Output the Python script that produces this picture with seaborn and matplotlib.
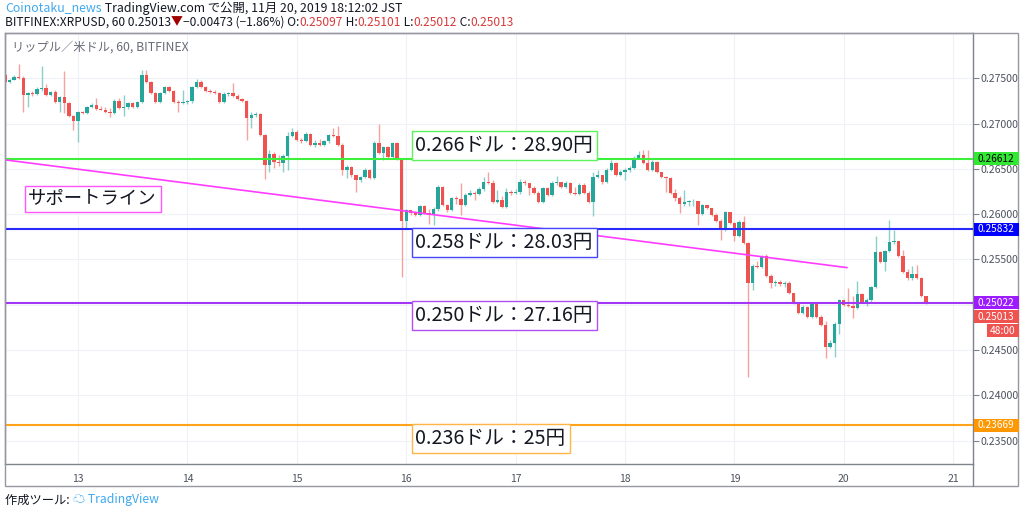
import numpy as np
import pandas as pd
import matplotlib
matplotlib.use("Agg")
import matplotlib.pyplot as plt
import seaborn as sns
from matplotlib.patches import Rectangle
from matplotlib.lines import Line2D

# ---------------- data ----------------
first_open = 0.2754
close = [
    .2746, .2748, .2751, .2750, .2732, .2734, .2733, .2738, .2739, .2732,
    .2735, .2724, .2729, .2723, .2708, .2703, .2713, .2712, .2718, .2721,
    .2716, .2715, .2713, .2712, .2725, .2717, .2718, .2723, .2718, .2724,
    .2754, .2746, .2734, .2724, .2734, .2740, .2736, .2724, .2723, .2724,
    .2725, .2740, .2746, .2740, .2736, .2735, .2734, .2724, .2733, .2734,
    .2730, .2727, .2725, .2706, .2709, .2711, .2687, .2654, .2666, .2658,
    .2657, .2664, .2686, .2691, .2682, .2681, .2689, .2676, .2679, .2676,
    .2681, .2687, .2686, .2676, .2649, .2652, .2643, .2638, .2641, .2649,
    .2640, .2679, .2668, .2674, .2663, .2679, .2661, .2593, .2605, .2601,
    .2599, .2609, .2601, .2599, .2606, .2630, .2610, .2605, .2618, .2617,
    .2610, .2621, .2623, .2622, .2628, .2636, .2634, .2613, .2616, .2608,
    .2624, .2623, .2625, .2636, .2634, .2629, .2623, .2613, .2629, .2621,
    .2634, .2635, .2630, .2634, .2623, .2622, .2632, .2623, .2613, .2641,
    .2643, .2636, .2649, .2657, .2643, .2647, .2649, .2651, .2662, .2665,
    .2657, .2649, .2658, .2647, .2641, .2640, .2623, .2618, .2611, .2613,
    .2614, .2615, .2600, .2610, .2607, .2599, .2593, .2584, .2602, .2590,
    .2576, .2591, .2568, .2524, .2543, .2542, .2554, .2532, .2524, .2525,
    .2523, .2524, .2513, .2502, .2491, .2498, .2487, .2501, .2487, .2478,
    .2453, .2458, .2479, .2505, .2500, .2499, .2496, .2512, .2503, .2505,
    .2520, .2558, .2547, .2559, .2569, .2570, .2554, .2536, .2530, .2534,
    .2530, .25097, .25013]
high = [
    .2755, .2749, .2754, .2766, .2753, .2735, .2736, .2740, .2764, .2744,
    .2736, .2737, .2730, .2758, .2724, .2709, .2714, .2714, .2719, .2723,
    .2728, .2719, .2718, .2717, .2727, .2728, .2732, .2724, .2724, .2725,
    .2759, .2759, .2747, .2735, .2735, .2742, .2742, .2737, .2726, .2737,
    .2726, .2742, .2749, .2748, .2742, .2738, .2737, .2735, .2735, .2735,
    .2745, .2733, .2728, .2726, .2713, .2713, .2712, .2689, .2671, .2669,
    .2665, .2666, .2691, .2695, .2693, .2684, .2691, .2690, .2682, .2683,
    .2682, .2689, .2695, .2697, .2679, .2654, .2653, .2643, .2642, .2651,
    .2650, .2681, .2700, .2675, .2675, .2680, .2680, .2662, .2606, .2605,
    .2602, .2610, .2610, .2606, .2608, .2632, .2631, .2611, .2619, .2620,
    .2634, .2623, .2627, .2626, .2630, .2641, .2647, .2638, .2627, .2620,
    .2629, .2627, .2628, .2639, .2638, .2634, .2631, .2626, .2630, .2630,
    .2637, .2642, .2636, .2637, .2636, .2630, .2634, .2634, .2626, .2647,
    .2649, .2643, .2651, .2660, .2658, .2649, .2651, .2653, .2664, .2670,
    .2671, .2671, .2660, .2659, .2647, .2642, .2641, .2628, .2620, .2627,
    .2616, .2617, .2613, .2611, .2610, .2607, .2601, .2595, .2604, .2602,
    .2591, .2594, .2598, .2569, .2545, .2548, .2555, .2556, .2534, .2527,
    .2527, .2526, .2526, .2513, .2503, .2500, .2499, .2503, .2503, .2489,
    .2482, .2461, .2481, .2506, .2506, .2519, .2510, .2526, .2513, .2507,
    .2521, .2576, .2559, .2560, .2594, .2583, .2570, .2560, .2539, .2543,
    .2544, .2531, .25101]
low = [
    .2745, .2745, .2748, .2749, .2713, .2718, .2730, .2732, .2736, .2730,
    .2730, .2723, .2713, .2712, .2707, .2693, .2680, .2711, .2711, .2717,
    .2715, .2715, .2712, .2707, .2711, .2716, .2708, .2716, .2717, .2717,
    .2723, .2745, .2733, .2723, .2723, .2733, .2735, .2723, .2713, .2722,
    .2722, .2723, .2739, .2739, .2735, .2734, .2733, .2723, .2723, .2730,
    .2729, .2726, .2724, .2682, .2695, .2707, .2686, .2639, .2647, .2651,
    .2653, .2647, .2649, .2685, .2681, .2679, .2680, .2675, .2674, .2675,
    .2675, .2679, .2685, .2675, .2643, .2640, .2641, .2624, .2636, .2640,
    .2639, .2639, .2666, .2660, .2662, .2661, .2660, .2531, .2585, .2599,
    .2598, .2598, .2600, .2589, .2588, .2604, .2609, .2602, .2604, .2611,
    .2599, .2609, .2620, .2616, .2621, .2626, .2633, .2612, .2612, .2607,
    .2607, .2621, .2622, .2622, .2632, .2621, .2622, .2612, .2612, .2620,
    .2620, .2632, .2629, .2629, .2622, .2621, .2621, .2622, .2612, .2598,
    .2640, .2633, .2634, .2648, .2642, .2642, .2638, .2647, .2650, .2661,
    .2655, .2648, .2648, .2645, .2640, .2624, .2622, .2615, .2601, .2609,
    .2609, .2609, .2588, .2599, .2606, .2598, .2591, .2572, .2581, .2589,
    .2570, .2575, .2567, .2420, .2516, .2541, .2541, .2531, .2519, .2521,
    .2521, .2520, .2512, .2501, .2490, .2490, .2485, .2485, .2485, .2477,
    .2441, .2452, .2442, .2468, .2499, .2498, .2485, .2495, .2502, .2499,
    .2502, .2519, .2546, .2537, .2558, .2567, .2553, .2535, .2527, .2527,
    .2528, .2509, .25012]
first_day = 12          # November 12
first_hour = 8          # first hourly bar
day_ticks = [13, 14, 15, 16, 17, 18, 19, 20, 21]
price_ticks = [0.235, 0.240, 0.245, 0.250, 0.255, 0.260, 0.265, 0.270, 0.275]
levels = [0.26612, 0.25832, 0.25022, 0.23669]
level_labels = ["0.266ドル：28.90円", "0.258ドル：28.03円", "0.250ドル：27.16円", "0.236ドル：25円"]
level_badges = ["0.26612", "0.25832", "0.25022", "0.23669"]
support_days = [12.33, 20.03]
support_prices = [0.2660, 0.2541]
support_label = "サポートライン"
last_price = 0.25013
countdown = "48:00"

# ---------------- figure ----------------
sns.set_theme(style="white")
plt.rcParams["font.family"] = ["Noto Sans CJK JP", "DejaVu Sans"]
W, H = 1024, 514
fig = plt.figure(figsize=(W / 100, H / 100), dpi=100)
fig.patch.set_facecolor("white")

L, R, T, B = 4.7, 973.0, 33.0, 464.0
YMIN, YMAX = 0.23242, 0.28000
XMIN, XMAX = 12.330, 21.181
ax = fig.add_axes([L / W, 1 - B / H, (R - L) / W, (B - T) / H])


def fx(x):
    return x / W


def fy(y):
    return 1 - y / H


def price_px(p):
    return T + (YMAX - p) / (YMAX - YMIN) * (B - T)


n = len(close)
opens = [first_open] + close[:-1]
df = pd.DataFrame({
    "t": [first_day + (first_hour + i) / 24 for i in range(n)],
    "open": opens, "high": high, "low": low, "close": close})
df["high"] = df[["high", "open", "close"]].max(axis=1)
df["low"] = df[["low", "open", "close"]].min(axis=1)
up = df["close"] >= df["open"]
GREEN, RED = "#26a69a", "#ef5350"
body_col = np.where(up, GREEN, RED)
wick_col = np.where(up, "#8ccfc8", "#f5a3a1")

ax.vlines(df["t"], df["low"], df["high"], colors=wick_col, linewidth=1.0, zorder=3)
bottoms = df[["open", "close"]].min(axis=1)
heights = np.maximum((df["close"] - df["open"]).abs(), 0.00005)
ax.bar(df["t"], heights, bottom=bottoms, width=0.031, color=body_col, linewidth=0, zorder=4)

# horizontal levels
lv_line = ["#3cf03c", "#2a2aff", "#a238f5", "#ffa31a"]
lv_edge = ["#5cf25c", "#4646ff", "#b24ff5", "#ffb547"]
for p, c in zip(levels, lv_line):
    ax.axhline(p, color=c, linewidth=1.5, zorder=5)

# support line
sns.lineplot(x=support_days, y=support_prices, ax=ax, color="#ff3cff", linewidth=1.2, zorder=5)

# level text boxes
off = 13 * (YMAX - YMIN) / (B - T)
ys = [levels[0] + off, levels[1] - off, levels[2] - off, levels[3] - off]
for txt, yv, ec in zip(level_labels, ys, lv_edge):
    ax.text(16.085, yv, txt, fontsize=14.2, color="#131722", va="center", ha="left", zorder=6,
            bbox=dict(boxstyle="square,pad=0.2", fc="white", ec=ec, lw=1.0))
ax.text(12.545, 0.26168, support_label, fontsize=13.2, color="#131722", va="center", ha="left", zorder=6,
        bbox=dict(boxstyle="square,pad=0.2", fc="white", ec="#ff55ff", lw=1.0))

ax.set_xlim(XMIN, XMAX)
ax.set_ylim(YMIN, YMAX)
ax.set_xticks(day_ticks)
ax.set_xticklabels([str(d) for d in day_ticks])
ax.set_yticks(price_ticks)
# the 0.25000 label is hidden behind the price badges in the original
badge_px = [price_px(p) for p in levels] + [price_px(levels[2]) + 14, price_px(levels[2]) + 28]
ylabels = []
for p in price_ticks:
    hidden = any(abs(price_px(p) - b) < 5 for b in badge_px)
    ylabels.append("" if hidden else f"{p:.5f}")
ax.set_yticklabels(ylabels)
ax.yaxis.tick_right()
ax.tick_params(axis="y", length=4, width=0.8, color="#7f838c", labelsize=7.6,
               labelcolor="#4c525e", pad=1.5, direction="out")
ax.tick_params(axis="x", length=3, width=0.8, color="#7f838c", labelsize=7.5,
               labelcolor="#4c525e", pad=4, direction="out")
ax.grid(True, color="#eef1f6", linewidth=0.8)
ax.set_axisbelow(True)
ax.set_xlabel("")
ax.set_ylabel("")
for s in ["left", "top"]:
    ax.spines[s].set_color("#9598a1")
    ax.spines[s].set_linewidth(1.0)
for s in ["right", "bottom"]:
    ax.spines[s].set_color("#7f838c")
    ax.spines[s].set_linewidth(1.0)

# outer frame
fig.add_artist(Rectangle((fx(L), fy(486)), fx(1018 - L), (486 - T) / H, transform=fig.transFigure,
                         fill=False, ec="#9598a1", lw=1.0))
fig.add_artist(Line2D([fx(R), fx(R)], [fy(B), fy(486)], transform=fig.transFigure, color="#7f838c", lw=1.0))


# right-hand price badges
def badge(ypx, text, fc, tc, x0=973.5, x1=1018.5, h=13):
    fig.add_artist(Rectangle((fx(x0), fy(ypx + h / 2)), fx(x1 - x0), h / H, transform=fig.transFigure,
                             fc=fc, ec="none", zorder=10))
    fig.text(fx((x0 + x1) / 2), fy(ypx), text, fontsize=7.3, color=tc, ha="center", va="center", zorder=11)


badge_fc = ["#33e833", "#0000ff", "#9c1bff", "#ff9800"]
badge_tc = ["#000000", "white", "white", "white"]
for p, t, c, tc in zip(levels, level_badges, badge_fc, badge_tc):
    badge(price_px(p), t, c, tc)
badge(price_px(levels[2]) + 14, f"{last_price:.5f}", RED, "white")
badge(price_px(levels[2]) + 28, countdown, RED, "white", x0=987)

# header (multi-coloured text runs)
renderer = fig.canvas.get_renderer()


def rich(x, y, pieces, size, color_default="#131722"):
    for s, c in pieces:
        t = fig.text(fx(x), fy(y), s, color=c or color_default, fontsize=size, ha="left", va="center")
        bb = t.get_window_extent(renderer=renderer)
        x += bb.width


BLUE_TXT = "#40a9f0"
VAL_RED = "#d83a3a"
rich(5, 8, [("Coinotaku_news", BLUE_TXT), (" TradingView.com で公開, 11月 20, 2019 18:12:02 JST", None)], 8.9)
rich(5, 22, [("BITFINEX:XRPUSD, 60 0.25013", None), ("▼", "#a00000"), ("−0.00473 (−1.86%) O:", None),
             ("0.25097", VAL_RED), (" H:", None), ("0.25101", VAL_RED), (" L:", None),
             ("0.25012", VAL_RED), (" C:", None), ("0.25013", VAL_RED)], 8.6)
fig.text(fx(12), fy(47), "リップル／米ドル, 60, BITFINEX", fontsize=8.8, color="#6a6d78", ha="left", va="center")

# footer
rich(5, 500, [("作成ツール: ", None), ("☁", BLUE_TXT), (" TradingView", BLUE_TXT)], 8.8)

fig.savefig("out.png", dpi=100, facecolor="white")
